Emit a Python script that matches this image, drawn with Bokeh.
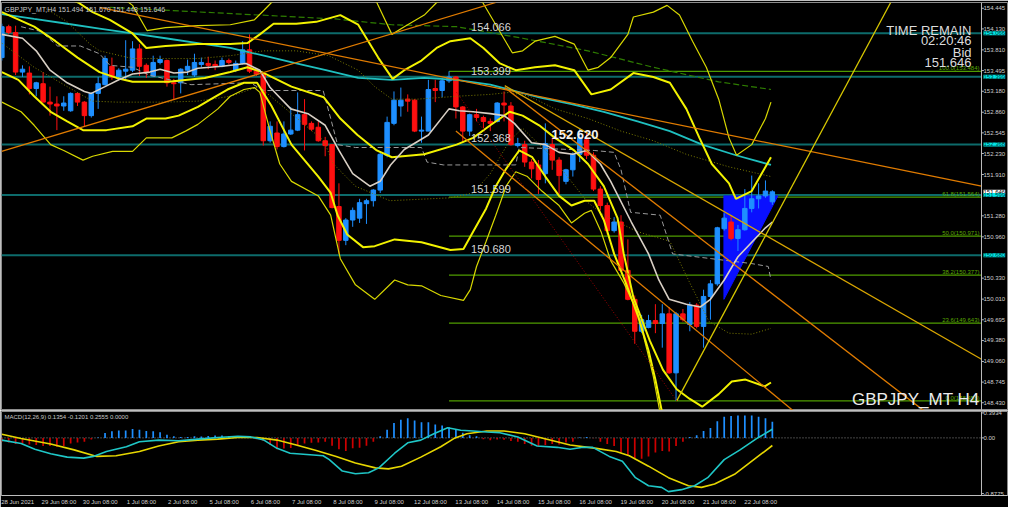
import numpy as np
from bokeh.plotting import figure
from bokeh.models import FixedTicker, Range1d, NumeralTickFormatter, Span
from bokeh.layouts import column
from bokeh.embed import file_html
from bokeh.resources import INLINE
from bokeh.core.properties import value

# ---------------- DATA ----------------
open_ = [153.693,154.164,154.076,153.472,153.457,153.221,153.295,153.014,152.985,152.955,
152.882,153.147,153.014,152.808,153.147,153.280,153.560,153.398,153.486,153.501,
153.825,153.575,153.413,153.619,153.648,153.309,153.309,153.501,153.427,153.589,
153.604,153.589,153.560,153.648,153.501,153.604,153.811,153.486,153.442,152.425,
152.543,152.336,152.528,152.587,152.823,152.690,152.631,152.425,152.366,151.422,
150.906,151.216,151.245,151.466,151.511,151.673,152.204,152.690,152.955,153.059,
153.044,152.572,152.572,153.221,153.191,153.339,153.398,152.941,152.572,152.823,
152.779,152.720,152.720,153.000,152.955,152.351,152.366,152.100,152.056,151.923,
152.366,152.130,151.806,151.982,152.218,152.440,152.204,151.688,151.437,151.054,
151.186,150.449,150.007,149.520,149.579,149.683,149.638,149.786,148.886,149.786,
149.624,149.918,149.594,150.051,150.243,151.083,151.186,150.936,151.068,151.393,
151.540,151.584,151.494]
high = [154.209,154.194,154.179,153.575,153.560,153.324,153.472,153.250,153.103,153.103,
153.162,153.162,153.029,153.162,153.398,153.722,153.693,153.530,153.958,153.943,
153.899,153.604,153.722,153.722,153.663,153.368,153.530,153.663,153.752,153.693,
153.707,153.648,153.693,153.678,153.648,153.943,154.047,153.530,153.472,152.720,
152.720,152.720,152.941,153.162,153.059,152.720,152.720,152.484,152.366,151.776,
151.245,151.407,151.540,151.540,151.688,152.248,152.793,153.177,153.236,153.132,
153.059,152.793,153.354,153.354,153.383,153.484,153.413,152.955,152.838,152.911,
152.808,152.764,153.014,153.177,153.014,152.469,152.425,152.145,152.130,152.690,
152.469,152.174,151.997,152.248,152.620,152.543,152.248,151.732,151.481,151.260,
151.290,150.921,150.066,149.771,149.771,149.933,149.933,149.889,149.815,149.859,
149.963,149.948,150.154,150.302,151.113,151.319,151.290,151.142,151.688,151.894,
151.776,151.820,151.670]
low = [153.648,154.047,153.427,153.398,153.132,153.103,153.014,152.808,152.587,152.882,
152.867,152.955,152.646,152.779,152.911,153.265,153.354,153.354,153.354,153.472,
153.413,153.383,153.398,153.589,153.250,153.059,153.147,153.427,153.398,153.545,
153.516,153.501,153.545,153.589,153.472,153.589,153.457,153.413,152.351,152.395,
152.292,152.322,152.513,152.572,152.277,152.572,152.410,152.189,151.393,150.700,
150.833,151.113,151.172,151.157,151.422,151.629,152.174,152.661,152.793,152.867,
152.557,152.395,152.572,153.014,153.088,153.309,152.764,152.395,152.498,152.720,
152.616,152.572,152.705,152.720,152.351,152.322,152.027,151.850,151.614,151.776,
151.982,151.614,151.761,151.879,152.100,152.145,151.658,151.363,150.995,151.024,
150.434,149.992,149.329,149.491,149.565,149.491,149.270,148.872,148.458,149.668,
149.520,149.565,149.270,149.697,150.213,151.054,150.906,150.744,151.054,151.334,
151.393,151.555,151.448]
close = [154.164,154.076,153.472,153.516,153.221,153.309,153.014,152.985,152.955,153.000,
153.147,153.014,152.808,153.147,153.295,153.678,153.398,153.501,153.516,153.825,
153.560,153.472,153.619,153.663,153.309,153.295,153.516,153.560,153.619,153.619,
153.575,153.560,153.648,153.619,153.604,153.811,153.486,153.442,152.425,152.646,
152.336,152.528,152.587,152.823,152.675,152.602,152.425,152.351,151.407,150.906,
151.216,151.363,151.481,151.511,151.673,152.218,152.705,153.044,153.044,153.029,
152.572,152.587,153.206,153.191,153.339,153.398,152.941,152.572,152.823,152.779,
152.720,152.690,153.000,152.970,152.366,152.381,152.100,151.997,151.835,152.381,
152.130,151.894,151.982,152.218,152.469,152.204,151.688,151.437,151.054,151.186,
150.449,150.007,149.520,149.697,149.683,149.638,149.786,148.886,149.786,149.697,
149.918,149.594,150.051,150.243,151.098,151.245,150.936,151.068,151.393,151.540,
151.584,151.658,151.646]

date_bars = [0, 6, 12, 18, 24, 30, 36, 42, 48, 54, 60, 66, 72, 78, 84, 90, 96, 102, 108]
date_labels = ["28 Jun 2021", "29 Jun 08:00", "30 Jun 08:00", "1 Jul 08:00", "2 Jul 08:00",
               "5 Jul 08:00", "6 Jul 08:00", "7 Jul 08:00", "8 Jul 08:00", "9 Jul 08:00",
               "12 Jul 08:00", "13 Jul 08:00", "14 Jul 08:00", "15 Jul 08:00", "16 Jul 08:00",
               "19 Jul 08:00", "20 Jul 08:00", "21 Jul 08:00", "22 Jul 08:00"]
price_ticks = [154.445, 154.130, 153.810, 153.495, 153.180, 152.860, 152.545, 152.230, 151.910,
               151.280, 150.960, 150.330, 150.010, 149.695, 149.380, 149.060, 148.745, 148.430]
macd_ticks = [0.3934, 0.0, -0.8775]
macd_tick_labels = ["0.3934", "0.00", "-0.8775"]

levels = [154.066, 153.399, 152.368, 151.599, 150.680]
bid = 151.646
peak_bar = 83.3
peak_price = 152.620
level_label_bar = 68.2

fib_start = 65
fib_names = ["100.0(153.484)", "61.8(151.564)", "50.0(150.971)", "38.2(150.377)", "23.6(149.643)", "0.0(148.458)"]
fib_prices = [153.484, 151.564, 150.971, 150.377, 149.643, 148.458]

uo_x = [0,8.5,15.7,19.0,21.1,23.8,28.5,33.2,36.7,38.1,39.2,42.8,48.5,52.8,54.5,56.7,58.5,61.4,63.2,67.1,
        69.9,71.8,74.2,75.7,77.5,80.4,83.2,85.2,86.7,88.5,91.0,91.8,94.7,96.7,98.5,100.4,102.4,104.2,105.7,106.8,
        109.0,111.0,111.8]
uo_p = [155.418,155.123,154.754,154.489,154.105,154.150,154.179,154.194,154.268,154.415,154.533,154.828,154.975,
        154.680,154.533,154.047,154.164,154.341,154.533,154.680,154.533,154.194,153.766,153.796,153.943,154.017,
        153.899,153.501,153.545,153.693,154.047,154.312,154.386,154.489,154.341,153.943,153.545,153.059,152.469,
        152.204,152.366,152.764,153.014]
ui_x = [0,5.7,11.1,13.2,15.7,19.0,21.0,23.8,28.5,33.2,35.7,37.5,39.5,42.8,45.7,49.2,51.8,54.7,56.8,58.5,
        61.0,63.2,65.2,68.1,70.0,72.4,74.7,77.5,80.4,83.2,85.7,88.5,91.8,94.7,97.1,99.5,101.4,103.2,105.7,106.7,
        109.0,111.8]
ui_p = [155.049,154.754,154.533,154.386,154.268,154.061,153.840,153.870,153.899,153.899,153.914,154.047,154.209,
        154.209,154.238,154.341,154.194,153.693,153.368,153.501,153.648,153.840,153.943,153.988,153.840,153.604,
        153.501,153.545,153.575,153.501,153.132,153.206,153.457,153.398,153.309,152.911,152.469,152.071,151.776,
        151.540,151.658,152.174]
m_x = [0,4.7,7.8,11.0,14.2,16.7,19.0,24.2,29.5,33.2,35.7,37.8,42.1,46.8,49.2,51.7,54.5,56.7,61.4,66.1,
       68.5,71.0,73.8,75.7,78.1,80.4,83.2,85.2,87.5,89.5,90.4,91.8,94.2,96.1,98.1,100.0,101.8,104.2,106.1,108.1,
       110.9,111.8]
m_p = [154.386,154.164,153.943,153.693,153.472,153.383,153.324,153.324,153.383,153.472,153.545,153.472,153.250,
       153.088,152.764,152.513,152.277,152.174,152.218,152.366,152.469,152.661,152.867,152.808,152.661,152.469,
       152.277,152.071,151.732,151.245,150.700,150.036,149.373,148.931,148.636,148.488,148.370,148.562,148.754,
       148.783,148.680,148.739]
li_x = [0,2.4,4.7,7.1,9.5,11.8,15.2,19.0,21.0,23.8,25.7,28.5,30.4,32.8,35.2,37.1,39.2,42.1,46.0,47.8,
        48.8,50.2,52.5,54.2,57.1,61.0,65.2,67.1,68.5,70.4,71.8,73.3,75.2,77.1,79.0,81.0,82.8,84.7,86.1,87.5,
        89.0,90.7,92.5,94.0,95.0,96.0]
li_p = [153.472,153.354,153.103,152.867,152.720,152.587,152.587,152.646,152.764,152.764,152.808,152.941,153.059,
        153.206,153.309,153.309,152.955,152.366,151.879,151.629,151.290,150.995,150.803,150.818,150.921,150.877,
        150.759,150.774,151.039,151.393,151.732,151.997,152.277,152.174,151.879,151.584,151.437,151.511,151.511,
        151.216,150.700,150.258,149.741,149.226,148.783,148.267]
lo_x = [0,2.8,4.7,7.1,9.0,11.8,13.2,16.1,19.0,21.0,24.7,26.7,28.5,31.4,33.2,35.2,36.7,37.5,39.0,40.4,
        42.1,46.0,47.8,49.2,51.4,54.2,57.1,59.0,61.0,63.8,67.1,68.1,69.0,70.4,71.8,73.3,74.7,76.4,78.5,81.0,
        82.8,84.7,85.7,87.1,88.5,90.4,92.4,93.8,94.7,95.7]
lo_p = [153.014,152.867,152.661,152.366,152.277,152.130,152.189,152.263,152.263,152.469,152.469,152.572,152.675,
        152.911,153.103,153.206,153.236,153.162,152.572,152.071,151.806,151.584,151.290,150.626,150.228,150.007,
        150.302,150.228,150.213,150.066,149.992,150.154,150.508,150.892,151.290,151.732,151.953,151.879,151.658,
        151.437,151.172,151.319,151.363,151.039,150.597,150.258,149.815,149.226,148.827,148.267]
wma_x = [0,3,5,7,9.5,12,13,15,17,19,21.5,23,25,27,28.5,32,35.5,37.5,39,42,44.5,47,49,51,53.5,55,56.5,58.5,
         62,65,66.5,68.5,71,73,74.5,77,79,81,83,85,87,88.5,91.5,94,95.5,97,99.5,101.5,103,105,107,111,112]
wma_p = [154.047,153.988,153.796,153.501,153.309,153.177,153.147,153.250,153.354,153.442,153.472,153.516,153.457,
         153.472,153.530,153.560,153.604,153.501,153.236,152.911,152.838,152.661,152.277,151.923,151.732,151.806,
         152.056,152.292,152.513,152.911,152.882,152.867,152.838,152.808,152.690,152.395,152.366,152.248,152.218,
         152.277,152.071,151.806,151.186,150.700,150.302,150.007,149.933,149.889,150.007,150.302,150.656,151.098,
         151.186]
cyan_x = [0,4.7,9.5,14.2,19.0,23.8,28.5,33.2,38.1,42.8,47.1,51.8,56.7,61.4,66.1,71.0,73.8,78.1,82.8,87.5,92.4,
          97.1,101.8,106.7,111.8]
cyan_p = [154.356,154.282,154.209,154.135,154.061,153.988,153.914,153.840,153.722,153.604,153.501,153.383,153.354,
          153.383,153.354,153.280,153.206,153.088,152.985,152.867,152.720,152.572,152.366,152.204,152.056]
gd_x = [15.7,48.5,56.7,66.1,75.7,85.2,94.7,104.2,111.8]
gd_p = [154.459,154.282,154.194,154.164,153.988,153.796,153.545,153.324,153.206]
d1_x = [6.1,9.5,12.8,14.2,19.0,28.5,33.2,38.1,42.8,47.5,51.8,54.2,56.7,60.4,66.1,71.0,73.8,76.7,80.4,85.2,90.0,
        94.7,99.5,105.7,111.8]
d1_p = [154.459,154.238,153.899,153.796,153.678,153.678,153.722,153.796,153.796,153.722,153.501,153.250,153.059,
        153.059,153.103,153.132,153.162,153.103,152.911,152.764,152.572,152.425,152.218,152.027,151.879]
d2_x = [0,4.7,9.5,13.2,16.7,23.8,28.5,33.2,36.1,37.4,42.1,46.8,48.2,51.4,56.4,65.2,68.5,71.0,73.8,75.7,80.0,
        85.2,87.5,92.4,97.1,100.0,102.8,105.7,109.0,111.8]
d2_p = [153.914,153.545,153.250,153.029,153.014,153.014,153.029,153.103,153.206,153.250,152.838,152.425,152.071,
        151.732,151.511,151.555,151.629,151.923,152.425,152.616,152.174,151.481,151.290,151.039,150.892,150.258,
        149.668,149.491,149.476,149.565]
gray_x = [2.8,5.7,8.1,11.4,14.2,15.7,19.0,21.4,27.5,36.1,38.1,46.7,47.8,48.8,51.4,61.0,61.8,64.2,74.7,75.2,
          86.1,89.0,90.0,91.4,95.7,97.5,103.2,109.0,111.4,111.8]
gray_p = [154.164,154.091,153.870,153.870,153.752,153.575,153.545,153.427,153.280,153.309,153.191,153.191,
          152.764,152.366,152.322,152.322,152.100,152.056,152.056,152.322,152.277,152.248,151.982,151.334,
          151.290,150.700,150.626,150.552,150.508,150.302]

tl_x0 = [-0.04, 14.2, 73.1, 73.1, 66.0, 98.1]
tl_y0 = [152.263, 154.459, 153.265, 153.236, 152.572, 148.459]
tl_x1 = [71.8, 142.4, 142.4, 134.0, 115.0, 129.2]
tl_y1 = [154.533, 151.732, 149.093, 148.311, 148.311, 154.533]
tl_col = ["#e07b00", "#e07b00", "#d9a600", "#e07b00", "#e07b00", "#d8c800"]
red_x = [66.1, 98.1]
red_p = [153.162, 148.459]

tri_x = [104.96, 104.96, 112.8]
tri_p = [150.007, 151.584, 151.584]

hist = [-0.062,-0.072,-0.097,-0.087,-0.103,-0.113,-0.128,-0.128,-0.139,-0.128,
-0.087,-0.072,-0.062,-0.026,0.004,0.077,0.103,0.118,0.118,0.139,
0.128,0.108,0.103,0.087,0.051,0.026,0.015,0.015,0.026,0.021,
0.031,0.036,0.036,0.031,0.031,0.031,0.005,-0.021,-0.051,-0.113,
-0.180,-0.169,-0.159,-0.123,-0.087,-0.077,-0.072,-0.062,-0.123,-0.180,
-0.205,-0.164,-0.154,-0.123,-0.062,0.026,0.128,0.236,0.287,0.308,
0.272,0.246,0.246,0.210,0.195,0.169,0.133,0.082,0.041,0.026,
-0.021,-0.036,-0.026,-0.031,-0.051,-0.062,-0.097,-0.123,-0.139,-0.113,
-0.097,-0.103,-0.072,-0.062,0.005,0.015,-0.005,-0.062,-0.097,-0.128,
-0.231,-0.282,-0.318,-0.328,-0.292,-0.231,-0.205,-0.215,-0.128,-0.062,
0.015,0.041,0.108,0.154,0.262,0.333,0.344,0.354,0.354,0.354,
0.333,0.308,0.256]
macd_x = [0,2.8,4.8,7.1,9.5,11.9,13.3,15.2,18.1,20,22.8,25.7,28.5,31.4,34.3,36.2,38.1,40,41.9,44.8,
          46.7,47.6,49.5,51.4,53.3,54.8,57.1,59,60.9,62.8,64.8,66.7,68.5,70.5,72.4,75,77.8,80.7,82.6,84.5,
          85.9,88.3,90.2,92.1,94,95.9,96.9,98.8,100.7,102.6,105,107.3,109.7,112]
macd_v = [-0.035,-0.088,-0.180,-0.251,-0.303,-0.319,-0.292,-0.216,-0.139,-0.062,-0.035,-0.046,-0.020,0.005,
          0.026,0.015,-0.035,-0.165,-0.242,-0.266,-0.282,-0.343,-0.523,-0.565,-0.550,-0.473,-0.242,-0.077,
          -0.035,0.066,0.159,0.119,0.108,0.092,0.082,0.015,-0.128,-0.149,-0.180,-0.149,-0.149,-0.292,-0.369,
          -0.627,-0.754,-0.780,-0.847,-0.816,-0.754,-0.627,-0.343,-0.189,-0.011,0.135]
sig_x = [0,2.8,7.1,10.5,13.8,16.6,20,22.8,25.7,28.5,31.4,34.3,37.1,40,42.8,45.7,48.6,51.4,54.3,56.2,
         58.1,60.9,63.8,65.7,67.6,70.5,73,76,78.8,82.6,86.4,89.3,91.2,94,96.9,99.8,101.7,103.6,106.5,109.3,112]
sig_v = [0.057,-0.011,-0.097,-0.189,-0.292,-0.282,-0.216,-0.128,-0.062,-0.035,-0.020,0.005,0.005,-0.035,
         -0.112,-0.200,-0.292,-0.396,-0.473,-0.488,-0.446,-0.303,-0.139,-0.011,0.066,0.108,0.108,0.066,
         -0.011,-0.112,-0.165,-0.216,-0.282,-0.446,-0.627,-0.754,-0.780,-0.728,-0.574,-0.343,-0.120]

header_text = "GBPJPY_MT,H4  151.494 151.670 151.448 151.646"
macd_text = "MACD(12,26,9) 0.1354 -0.1201 0.2555 0.0000"
info_lines = ["TIME REMAIN", "02:20:46", "Bid", "151.646"]
symbol_text = "GBPJPY_MT H4"

# ---------------- FIGURES ----------------
FONT = value("Liberation Sans")
W = 1008
CHART_END = 142.4            # bar position of the chart / price-scale divider
XR = Range1d(-0.05, 146.18)  # frame also covers the price-scale column
YR = Range1d(148.312, 154.533)
SCALE_COL = "#bdbdbd"


def style_scale(axis, ticks):
    axis.ticker = FixedTicker(ticks=ticks)
    axis.major_label_text_font_size = "6px"
    axis.major_label_text_color = "#cfcfcf"
    axis.major_label_text_font = "Liberation Sans"
    axis.axis_line_color = None
    axis.major_tick_line_color = None
    axis.major_tick_out = 0
    axis.major_tick_in = 0
    axis.minor_tick_line_color = None
    axis.major_label_standoff = -24


p = figure(width=W, height=410, x_range=XR, y_range=YR, output_backend="svg",
           toolbar_location=None, x_axis_location=None, y_axis_location="right",
           min_border_left=1, min_border_right=1, min_border_top=2, min_border_bottom=0,
           background_fill_color="black", border_fill_color="black",
           outline_line_color="#8c8c8c")
p.grid.visible = False
ax = p.yaxis[0]
style_scale(ax, price_ticks)
ax.formatter = NumeralTickFormatter(format="0.000")

p.add_layout(Span(location=CHART_END, dimension="height", line_color=SCALE_COL, line_width=1))
# small scale tick marks at the divider
p.segment(x0=[CHART_END] * len(price_ticks), y0=price_ticks, x1=[CHART_END + 0.35] * len(price_ticks),
          y1=price_ticks, line_color=SCALE_COL, line_width=1)

p.segment(x0=[XR.start] * len(levels), y0=levels, x1=[CHART_END] * len(levels), y1=levels,
          line_color="#0d6b6b", line_width=2)
p.segment(x0=[fib_start] * len(fib_prices), y0=fib_prices, x1=[CHART_END] * len(fib_prices), y1=fib_prices,
          line_color="#4f9c00", line_width=1.3)

p.patch(tri_x, tri_p, fill_color="#0a10ff", line_color="#0a10ff", fill_alpha=1.0)

o = np.array(open_); h = np.array(high); l = np.array(low); c = np.array(close)
idx = np.arange(len(o))
cols = np.where(c >= o, "#1e8fff", "#ff1010").tolist()
p.segment(x0=idx, y0=h, x1=idx, y1=l, line_color=cols, line_width=1)
p.vbar(x=idx, width=0.65, top=np.maximum(o, c), bottom=np.minimum(o, c),
       fill_color=cols, line_color=cols, line_width=1)

p.line(cyan_x, cyan_p, line_color="#1fbfbf", line_width=1.8)
p.line(gd_x, gd_p, line_color="#2e7d00", line_width=1.2, line_dash="6 3")
p.line(d1_x, d1_p, line_color="#7a7a00", line_width=1, line_dash="1 2")
p.line(d2_x, d2_p, line_color="#7a7a00", line_width=1, line_dash="1 2")
p.line(gray_x, gray_p, line_color="#9a9a9a", line_width=1, line_dash="5 3")
p.line(uo_x, uo_p, line_color="#d8d800", line_width=1.2)
p.line(lo_x, lo_p, line_color="#d8d800", line_width=1.2)
p.line(ui_x, ui_p, line_color="#f2f200", line_width=2)
p.line(li_x, li_p, line_color="#f2f200", line_width=2)
p.line(m_x, m_p, line_color="#f2f200", line_width=2)
p.line(wma_x, wma_p, line_color="#d8cfc4", line_width=1.6)

p.segment(x0=tl_x0, y0=tl_y0, x1=tl_x1, y1=tl_y1, line_color=tl_col, line_width=1.3)
p.line(red_x, red_p, line_color="#a00000", line_width=1, line_dash="1 2")

p.text(x=[level_label_bar] * len(levels), y=levels, text=[f"{v:.3f}" for v in levels],
       text_font=FONT, text_font_size="11px", text_color="#d6d6d6",
       text_align="left", text_baseline="bottom", y_offset=-2)
p.text(x=[peak_bar], y=[peak_price], text=[f"{peak_price:.3f}"], text_font=FONT,
       text_font_size="13px", text_font_style="bold", text_color="#f2f2f2",
       text_align="center", text_baseline="top", y_offset=2)
p.text(x=[CHART_END] * len(fib_prices), y=fib_prices, text=fib_names, text_font=FONT,
       text_font_size="6px", text_color="#5aa800", text_align="right",
       text_baseline="bottom", x_offset=-2, y_offset=0)
p.text(x=[XR.start], y=[YR.end], text=[header_text], text_font=FONT, text_font_size="7px",
       text_color="#c8c8c8", text_align="left", text_baseline="top", x_offset=3, y_offset=3)
p.text(x=[CHART_END] * 4, y=[YR.end] * 4, text=info_lines, text_font=FONT, text_font_size="13px",
       text_color="#dcdcdc", text_align="right", text_baseline="middle",
       x_offset=-10, y_offset=[28, 38, 50, 60])
p.text(x=[CHART_END], y=[YR.start], text=[symbol_text], text_font=FONT, text_font_size="17px",
       text_color="#ececec", text_align="right", text_baseline="bottom", x_offset=-2, y_offset=-2)

# price boxes in the price-scale column
p.text(x=[CHART_END], y=[bid], text=[f"{bid:.3f}"], text_font=FONT, text_font_size="6px",
       text_color="#000000", text_align="left", text_baseline="middle", x_offset=2,
       background_fill_color="#ffffff")
p.text(x=[CHART_END] * len(levels), y=levels, text=[f"{v:.3f}" for v in levels], text_font=FONT,
       text_font_size="6px", text_color="#003a3a", text_align="left", text_baseline="middle",
       x_offset=2, background_fill_color="#00e6e6")

# ---------------- MACD ----------------
MR = Range1d(-0.908, 0.4156)
p2 = figure(width=W, height=97, x_range=XR, y_range=MR, output_backend="svg",
            toolbar_location=None, y_axis_location="right",
            min_border_left=1, min_border_right=1, min_border_top=1, min_border_bottom=0,
            background_fill_color="black", border_fill_color="black",
            outline_line_color="#8c8c8c")
p2.grid.visible = False
ay = p2.yaxis[0]
style_scale(ay, macd_ticks)
ay.major_label_overrides = {t: s for t, s in zip(macd_ticks, macd_tick_labels)}
p2.add_layout(Span(location=CHART_END, dimension="height", line_color=SCALE_COL, line_width=1))
p2.segment(x0=[CHART_END] * len(macd_ticks), y0=macd_ticks, x1=[CHART_END + 0.35] * len(macd_ticks),
           y1=macd_ticks, line_color=SCALE_COL, line_width=1)

axx = p2.xaxis[0]
shift = 2.3
xt = [b + shift for b in date_bars]
axx.ticker = FixedTicker(ticks=xt)
axx.major_label_overrides = {t: s for t, s in zip(xt, date_labels)}
axx.major_label_text_font_size = "6px"
axx.major_label_text_color = "#cfcfcf"
axx.major_label_text_font = "Liberation Sans"
axx.axis_line_color = SCALE_COL
axx.major_tick_line_color = None
axx.major_tick_out = 0
axx.major_tick_in = 0
axx.minor_tick_line_color = None
axx.major_label_standoff = 3

p2.segment(x0=[XR.start], y0=[0], x1=[CHART_END], y1=[0], line_color="#8a8a8a", line_width=1, line_dash="1 2")
hcols = ["#1e8fff" if v >= 0 else "#cc0000" for v in hist]
p2.vbar(x=np.arange(len(hist)), top=hist, bottom=0, width=0.25, fill_color=hcols, line_color=None)
p2.line(sig_x, sig_v, line_color="#e6d600", line_width=1.6)
p2.line(macd_x, macd_v, line_color="#1fc6c6", line_width=1.6)
p2.text(x=[XR.start], y=[MR.end], text=[macd_text], text_font=FONT, text_font_size="6px",
        text_color="#c8c8c8", text_align="left", text_baseline="top", x_offset=3, y_offset=2)

layout = column(p, p2, spacing=0)
open("out.html", "w").write(file_html(layout, INLINE))
